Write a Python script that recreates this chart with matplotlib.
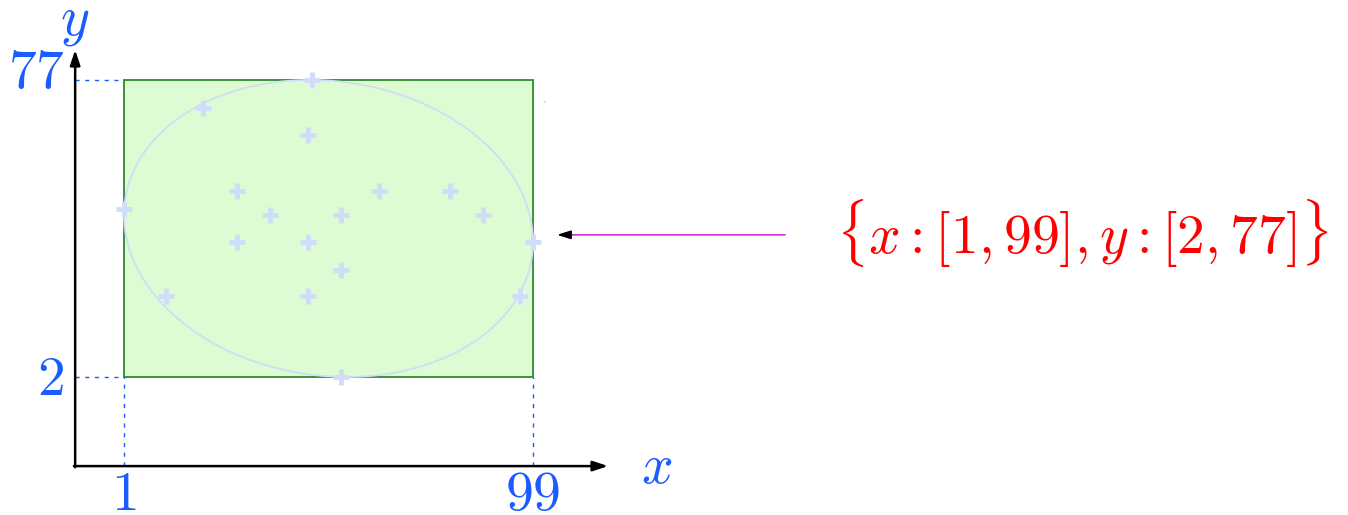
import numpy as np
import matplotlib
matplotlib.use("Agg")
import matplotlib.pyplot as plt
from matplotlib.patches import Rectangle

plt.rcParams['mathtext.fontset'] = 'cm'

# data
xs = [46, 20, 45, 28, 62, 79, 1, 36, 53, 87, 28, 45, 99, 53, 11, 45, 96, 53]
ys = [77, 70, 63, 49, 49, 49, 44.5, 43, 43, 43, 36, 36, 36, 29, 22.5, 22.5, 22.5, 2]
stray_x = [102]
stray_y = [71.5]
x_range = (1, 99)
y_range = (2, 77)
tilt = -165  # off-diagonal term of the bounding ellipse

blue = '#1a5cff'
pale = '#d0ddf8'

fig = plt.figure(figsize=(13.48, 5.15), dpi=100)
ax = fig.add_axes([0, 0, 1, 1])
ax.set_xlim(-28.71, 294.3)
ax.set_ylim(-32.85, 97.2)
ax.axis('off')

x0, x1 = x_range
y0, y1 = y_range
ox, oy = -10.7, -20.5

# box
ax.add_patch(Rectangle((x0, y0), x1 - x0, y1 - y0, facecolor='#ddfcd3',
                       edgecolor='#2e8b2e', lw=1.3, zorder=1))

# tilted ellipse inscribed in the box
cx, cy = (x0 + x1) / 2, (y0 + y1) / 2
wx, wy = (x1 - x0) / 2, (y1 - y0) / 2
t = np.linspace(0, 2 * np.pi, 400)
c = tilt / wx
s = np.sqrt(wy ** 2 - c ** 2)
ax.plot(cx + wx * np.cos(t), cy + c * np.cos(t) + s * np.sin(t),
        color=pale, lw=1.3, zorder=2)

ax.plot(xs, ys, '+', color=pale, ms=11, mew=3.5, zorder=3)
ax.plot(stray_x, stray_y, 's', color=pale, ms=2, mew=0, zorder=3)

# guide lines
dash = (0, (3, 4))
ax.plot([ox, x0], [y1, y1], ls=dash, color=blue, lw=1, zorder=0)
ax.plot([ox, x0], [y0, y0], ls=dash, color=blue, lw=1, zorder=0)
ax.plot([x0, x0], [oy, y0], ls=dash, color=blue, lw=1, zorder=0)
ax.plot([x1, x1], [oy, y0], ls=dash, color=blue, lw=1, zorder=0)

# axes with arrows
ax.annotate('', xy=(117, oy), xytext=(ox - 0.3, oy),
            arrowprops=dict(arrowstyle='-|>,head_length=0.9,head_width=0.3',
                            color='black', lw=1.8, shrinkA=0, shrinkB=0))
ax.annotate('', xy=(ox, 84.6), xytext=(ox, oy - 0.3),
            arrowprops=dict(arrowstyle='-|>,head_length=0.9,head_width=0.3',
                            color='black', lw=1.8, shrinkA=0, shrinkB=0))

fs = 40
ax.text(ox, 88.4, '$y$', color=blue, fontsize=fs, ha='center', va='baseline')
ax.text(125, -24.8, '$x$', color=blue, fontsize=fs, ha='left', va='baseline')
ax.text(ox - 2.6, 75, '$%d$' % y1, color=blue, fontsize=fs, ha='right', va='baseline')
ax.text(ox - 2.6, -2.5, '$%d$' % y0, color=blue, fontsize=fs, ha='right', va='baseline')
ax.text(x0, -31.6, '$%d$' % x0, color=blue, fontsize=fs, ha='center', va='baseline')
ax.text(x1, -31.6, '$%d$' % x1, color=blue, fontsize=fs, ha='center', va='baseline')

# annotation
ax.annotate('', xy=(104.8, 37.9), xytext=(159.4, 37.9),
            arrowprops=dict(arrowstyle='-|>,head_length=0.8,head_width=0.25',
                            color='#cc33cc', lw=1.2, shrinkA=0, shrinkB=0))
ax.annotate('', xy=(104.8, 37.9), xytext=(107.5, 37.9),
            arrowprops=dict(arrowstyle='-|>,head_length=0.8,head_width=0.25',
                            color='black', lw=1.2, shrinkA=0, shrinkB=0))
ax.text(171.5, 33.1, r'$\{x:[%d,%d],y:[%d,%d]\}$' % (x0, x1, y0, y1),
        color='red', fontsize=fs, ha='left', va='baseline')

fig.savefig('out.png', dpi=100)
